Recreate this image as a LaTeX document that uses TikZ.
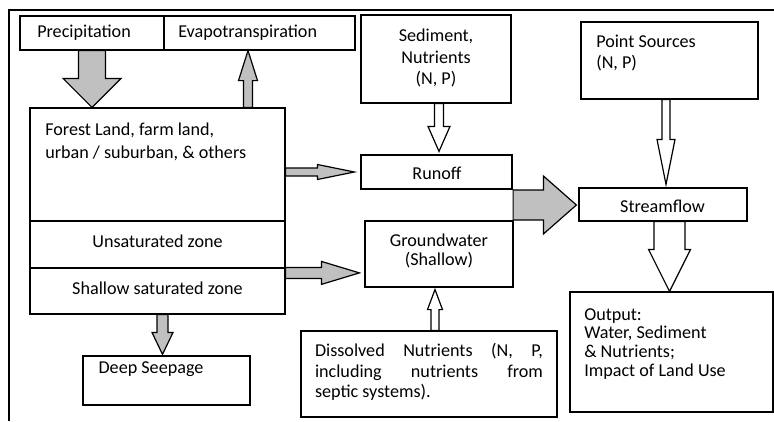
\documentclass[tikz,border=0pt]{standalone}
\usepackage{fontspec}
\setmainfont{Carlito}
\usetikzlibrary{calc,fit}
\definecolor{arrgray}{RGB}{192,192,192}
% block arrow: [style]{start}{end}{shaft half width}{head half width}{head length}
\newcommand{\blockarrow}[6][]{%
  \coordinate (ba-base) at ($(#3)!#6!(#2)$);
  \draw[#1] ($(#2)!#4!90:(#3)$) -- ($(ba-base)!#4!90:(#3)$) -- ($(ba-base)!#5!90:(#3)$)
    -- (#3) -- ($(ba-base)!#5!-90:(#3)$) -- ($(ba-base)!#4!-90:(#3)$) -- ($(#2)!#4!-90:(#3)$) -- cycle;
}
\begin{document}
\begin{tikzpicture}[x=0.75pt,y=-0.75pt,
  box/.style={draw, line width=0.9pt, inner sep=0pt},
  txt/.style={inner sep=0pt, font=\fontsize{13.6}{16}\selectfont},
  garrow/.style={draw, line width=0.9pt, fill=arrgray, line join=miter},
  warrow/.style={draw, line width=0.9pt, fill=white, line join=miter}]
\useasboundingbox (0,0) rectangle (774,421);
% outer frame
\coordinate (fbl) at (9,421);
\coordinate (ftl) at (9,10);
\coordinate (ftr) at (774,10);
\draw[line width=0.9pt] (fbl) -- (ftl) -- (ftr);

% boxes
\node[box, fit={(20,16) (164,50)}] (prec) {};
\node[box, fit={(164,16) (355,50)}] (evap) {};
\node[box, fit={(30,108) (285,221)}] (forest) {};
\node[box, fit={(30,221) (285,268)}] (unsat) {};
\node[box, fit={(30,268) (285,314)}] (sat) {};
\node[box, fit={(83,356) (250,405)}] (deep) {};
\node[box, fit={(361,15) (511,103)}] (sed) {};
\node[box, fit={(361,155) (512,189)}] (runoff) {};
\node[box, fit={(365,221) (513,287)}] (gw) {};
\node[box, fit={(301,331) (557,417)}] (diss) {};
\node[box, fit={(581,22) (758,99)}] (ps) {};
\node[box, fit={(579,188) (747,221)}] (stream) {};
\node[box, fit={(570,292) (773,412)}] (out) {};

% texts
\node[txt, anchor=west] (tprec) at (37,33) {Precipitation};
\node[txt, anchor=west] (tevap) at (178,33) {Evapotranspiration};
\node[txt, anchor=west, align=left, font=\fontsize{13.6}{17.3}\selectfont] (tforest) at (45,141.5) {Forest Land, farm land,\\urban / suburban, \& others};
\node[txt] (tunsat) at (157.5,241) {Unsaturated zone};
\node[txt] (tsat) at (157.5,288) {Shallow saturated zone};
\node[txt] (tdeep) at (151,369) {Deep Seepage};
\node[txt, align=center, font=\fontsize{13.6}{16.2}\selectfont] (tsed) at (436,58) {Sediment,\\Nutrients\\(N, P)};
\node[txt] (trunoff) at (437,173) {Runoff};
\node[txt, align=center, font=\fontsize{13.6}{14.5}\selectfont] (tgw) at (439,251) {Groundwater\\(Shallow)};
\node[txt, anchor=west, align=left, font=\fontsize{13.6}{16}\selectfont] (tps) at (596,53) {Point Sources\\(N, P)};
\node[txt] (tstream) at (662.5,206) {Streamflow};
\node[txt, text width=171pt, align=justify, font=\fontsize{13.6}{15.4}\selectfont] (tdiss) at (429,372)
  {\hyphenpenalty=10000 Dissolved Nutrients (N, P,\linebreak including nutrients from\linebreak septic systems).};
\node[txt, anchor=west, align=left, font=\fontsize{13.6}{14.2}\selectfont] (tout) at (584,344) {Output:\\Water, Sediment\\\& Nutrients;\\Impact of Land Use};

% arrow end points
\coordinate (a1s) at (prec.south);
\coordinate (a1e) at (prec.south |- forest.north);
\coordinate (a2e) at ($(evap.south)+(-11.5,0)$);
\coordinate (a2s) at (a2e |- forest.north);
\coordinate (a3s) at (forest.east |- runoff.west);
\coordinate (a3e) at ($(runoff.west)+(-6,0)$);
\coordinate (a4s) at ($(sat.north east)+(0,5.5)$);
\coordinate (a4e) at ($(a4s -| gw.west)+(-5,0)$);
\coordinate (a5s) at ($(sat.south)+(5,0)$);
\coordinate (a5e) at ($(a5s |- deep.north)+(0,-1)$);
\coordinate (a6s) at ($(sed.south)+(3,0)$);
\coordinate (a6e) at ($(a6s |- runoff.north)+(0,-3)$);
\coordinate (a7s) at ($(ps.south)+(-3.5,0)$);
\coordinate (a7e) at ($(a7s |- stream.north)+(0,-3)$);
\coordinate (a8s) at ($(runoff.south east)!0.5!(gw.north east)$);
\coordinate (a8e) at ($(a8s -| stream.west)+(-2,0)$);
\coordinate (a9s) at ($(stream.south)+(6.5,0)$);
\coordinate (a9e) at (a9s |- out.north);
\coordinate (a10s) at ($(diss.north)+(6,0)$);
\coordinate (a10e) at ($(a10s |- gw.south)+(0,2)$);

% arrows
\blockarrow[garrow]{a1s}{a1e}{13.5*0.75pt}{29*0.75pt}{29*0.75pt}
\blockarrow[garrow]{a2s}{a2e}{4.5*0.75pt}{9.5*0.75pt}{30*0.75pt}
\blockarrow[garrow]{a3s}{a3e}{4*0.75pt}{7.5*0.75pt}{37*0.75pt}
\blockarrow[garrow]{a4s}{a4e}{5.5*0.75pt}{11.5*0.75pt}{38*0.75pt}
\blockarrow[garrow]{a5s}{a5e}{5.5*0.75pt}{10.5*0.75pt}{22*0.75pt}
\blockarrow[warrow]{a6s}{a6e}{4.5*0.75pt}{11*0.75pt}{25*0.75pt}
\blockarrow[warrow]{a7s}{a7e}{4*0.75pt}{9*0.75pt}{45*0.75pt}
\blockarrow[garrow]{a8s}{a8e}{15*0.75pt}{29*0.75pt}{33*0.75pt}
\blockarrow[warrow]{a9s}{a9e}{15.5*0.75pt}{21*0.75pt}{42*0.75pt}
\blockarrow[warrow]{a10s}{a10e}{4*0.75pt}{7.5*0.75pt}{20*0.75pt}
\end{tikzpicture}
\end{document}
